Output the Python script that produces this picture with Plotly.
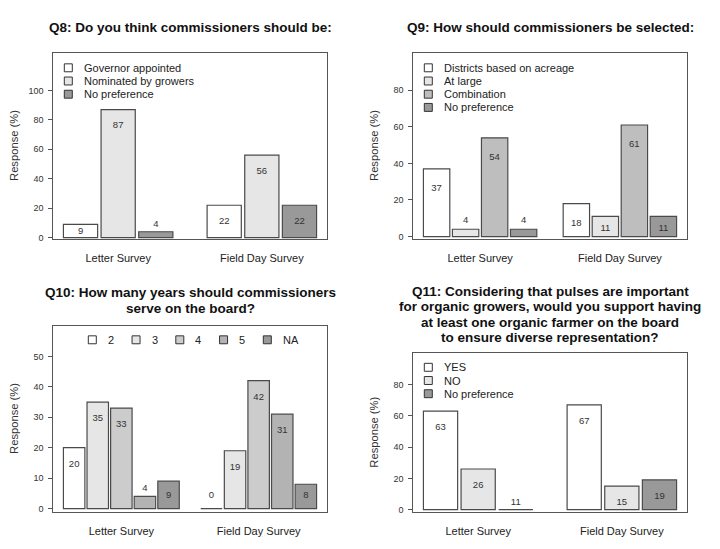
import plotly.graph_objects as go

# ---------------- data ----------------
groups = ["Letter Survey", "Field Day Survey"]

q8_title = ["Q8: Do you think commissioners should be:"]
q8_series = ["Governor appointed", "Nominated by growers", "No preference"]
q8_letter = [9, 87, 4]
q8_field = [22, 56, 22]

q9_title = ["Q9: How should commissioners be selected:"]
q9_series = ["Districts based on acreage", "At large", "Combination", "No preference"]
q9_letter = [37, 4, 54, 4]
q9_field = [18, 11, 61, 11]

q10_title = ["Q10: How many years should commissioners", "serve on the board?"]
q10_series = ["2", "3", "4", "5", "NA"]
q10_letter = [20, 35, 33, 4, 9]
q10_field = [0, 19, 42, 31, 8]

q11_title = ["Q11: Considering that pulses are important",
             "for organic growers, would you support having",
             "at least one organic farmer on the board",
             "to ensure diverse representation?"]
q11_series = ["YES", "NO", "No preference"]
q11_letter = [63, 26, 0]
q11_field = [67, 15, 19]
q11_letter_labels = ["63", "26", "11"]

q8_ticks = [0, 20, 40, 60, 80, 100]
q9_ticks = [0, 20, 40, 60, 80]
q10_ticks = [0, 10, 20, 30, 40, 50]
q11_ticks = [0, 20, 40, 60, 80]

# ---------------- styling / layout ----------------
W, H = 720, 549
FONT = "Liberation Sans, Arial, sans-serif"
EDGE = "#4a4a4a"
FRAME = "#555555"


def fx(px):
    return px / W


def fy(py):
    return 1 - py / H


panels = [
    dict(title=q8_title, series=q8_series, letter=q8_letter, field=q8_field,
         letter_labels=None, ticks=q8_ticks,
         colors=["#ffffff", "#e6e6e6", "#999999"],
         box=(53.3, 53.3, 326.7, 240.7), yrange=[-0.9, 125.5], lab_off=11.0,
         title_y=28.0, legend="v", leg_top=15.0),
    dict(title=q9_title, series=q9_series, letter=q9_letter, field=q9_field,
         letter_labels=None, ticks=q9_ticks,
         colors=["#ffffff", "#e6e6e6", "#bebebe", "#999999"],
         box=(413.3, 53.3, 686.7, 240.7), yrange=[-1.3, 100.4], lab_off=11.0,
         title_y=28.0, legend="v", leg_top=15.0),
    dict(title=q10_title, series=q10_series, letter=q10_letter, field=q10_field,
         letter_labels=None, ticks=q10_ticks,
         colors=["#ffffff", "#e6e6e6", "#cccccc", "#b3b3b3", "#999999"],
         box=(53.3, 328.3, 326.7, 515.7), yrange=[-1.1, 60.0], lab_off=5.5,
         title_y=295.0, legend="h", leg_top=14.0),
    dict(title=q11_title, series=q11_series, letter=q11_letter, field=q11_field,
         letter_labels=q11_letter_labels, ticks=q11_ticks,
         colors=["#ffffff", "#e6e6e6", "#999999"],
         box=(413.3, 356.0, 686.7, 515.7), yrange=[-1.5, 100.0], lab_off=10.6,
         title_y=293.3, legend="v", leg_top=14.0),
]

fig = go.Figure()
layout = dict(
    width=W, height=H, autosize=False,
    margin=dict(l=0, r=0, t=0, b=0),
    paper_bgcolor="white", plot_bgcolor="white",
    showlegend=False, barmode="overlay",
    font=dict(family=FONT, color="#222222"),
)
shapes = []
annotations = []

for i, p in enumerate(panels):
    sfx = "" if i == 0 else str(i + 1)
    xa, ya = "x" + sfx, "y" + sfx
    left, top, right, bottom = p["box"]
    n = len(p["series"])
    g = n + 0.1 * (n - 1)          # group width in bar units
    s = g + 1                      # spacing between group centres
    w = 1 / s
    ext = (g / 2 + 0.04 * (2 * g + 1)) / s
    c = p["lab_off"]

    for j, name in enumerate(p["series"]):
        off = -g / (2 * s) + j * 1.1 / s + w / 2
        xs = [k + off for k in range(len(groups))]
        vals = [p["letter"][j], p["field"][j]]
        labels = [str(v) for v in vals]
        if p["letter_labels"] is not None:
            labels[0] = p["letter_labels"][j]
        fig.add_trace(go.Bar(
            x=xs, y=vals, width=w, name=name,
            marker=dict(color=p["colors"][j], line=dict(color=EDGE, width=1.2)),
            xaxis=xa, yaxis=ya, hoverinfo="skip"))
        ly = []
        for v in vals:
            if 0 < v <= 5:
                ly.append(v + 0.45 * c)
            else:
                ly.append(max(v - c, 4.4))
        fig.add_trace(go.Scatter(
            x=xs, y=ly, text=labels, mode="text", textposition="middle center",
            textfont=dict(family=FONT, size=9.5, color="#333333"),
            xaxis=xa, yaxis=ya, hoverinfo="skip"))

    layout["xaxis" + sfx] = dict(
        domain=[fx(left), fx(right)], range=[-ext, 1 + ext], anchor=ya,
        tickvals=list(range(len(groups))), ticktext=groups, ticks="",
        ticklabelstandoff=9,
        tickfont=dict(family=FONT, size=11, color="#222222"),
        showline=True, mirror=True, linecolor=FRAME, linewidth=1,
        showgrid=False, zeroline=False, fixedrange=True)
    layout["yaxis" + sfx] = dict(
        domain=[fy(bottom), fy(top)], range=p["yrange"], anchor=xa,
        tickvals=p["ticks"], ticks="outside", ticklen=4, tickcolor=FRAME,
        ticklabelstandoff=3,
        tickfont=dict(family=FONT, size=9, color="#333333"),
        showline=True, mirror=True, linecolor=FRAME, linewidth=1,
        showgrid=False, zeroline=False, fixedrange=True)

    # y-axis title
    annotations.append(dict(
        text="Response (%)", xref="paper", yref="paper",
        x=fx(left - 39.3), y=fy((top + bottom) / 2), textangle=-90,
        showarrow=False, xanchor="center", yanchor="middle",
        font=dict(family=FONT, size=11.2, color="#333333")))

    # title lines
    cx = (left + right) / 2
    for k, line in enumerate(p["title"]):
        annotations.append(dict(
            text=line, xref="paper", yref="paper",
            x=fx(cx), y=fy(p["title_y"] + k * 15.6),
            showarrow=False, xanchor="center", yanchor="middle",
            font=dict(family=FONT, size=13.5, color="#111111", weight="bold")))

    # legend (drawn as decoration)
    for j, name in enumerate(p["series"]):
        if p["legend"] == "v":
            ix = left + 11.0
            iy = top + p["leg_top"] + j * 13.3
        else:
            ix = left + 35.0 + j * 43.75
            iy = top + p["leg_top"]
        shapes.append(dict(
            type="rect", xref="paper", yref="paper",
            x0=fx(ix), x1=fx(ix + 8), y0=fy(iy + 4), y1=fy(iy - 4),
            fillcolor=p["colors"][j], line=dict(color="#333333", width=1)))
        annotations.append(dict(
            text=name, xref="paper", yref="paper",
            x=fx(ix + 17.5), y=fy(iy), showarrow=False,
            xanchor="left", yanchor="middle",
            font=dict(family=FONT, size=11, color="#222222")))

layout["shapes"] = shapes
layout["annotations"] = annotations
fig.update_layout(**layout)
fig.write_html("out.html", config={"displayModeBar": False, "staticPlot": True})

# remove the browser's default page margin so the figure sits at (0, 0)
with open("out.html", "r", encoding="utf-8") as fh:
    html = fh.read()
html = html.replace("<body>", '<body style="margin:0;padding:0;overflow:hidden">', 1)
html = html.replace("<head>", '<head><style>html,body{margin:0;padding:0;}</style>', 1)
with open("out.html", "w", encoding="utf-8") as fh:
    fh.write(html)
